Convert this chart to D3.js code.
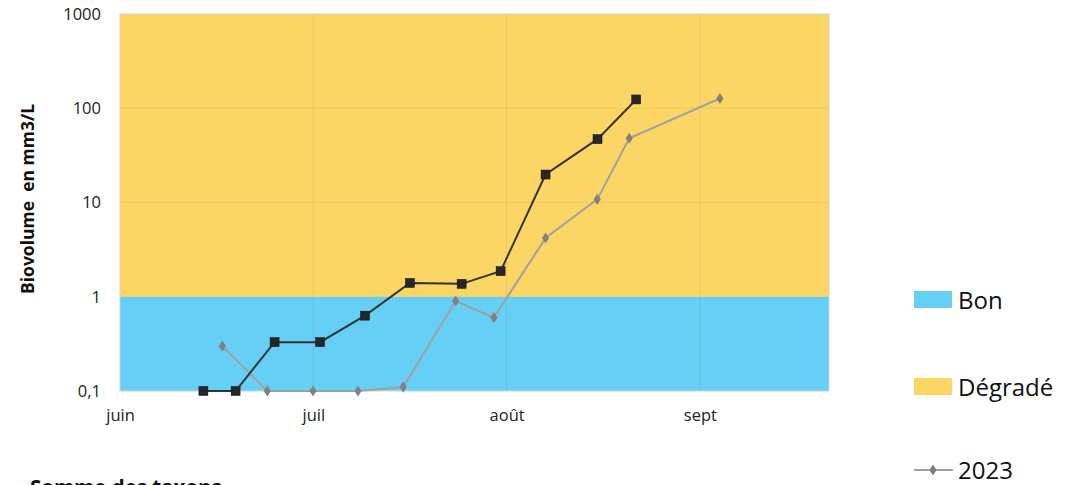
<!DOCTYPE html>
<html><head><meta charset="utf-8">
<script src="https://cdn.jsdelivr.net/npm/d3@7"></script>
<style>
body{margin:0;background:#fff;overflow:hidden}
svg text{font-family:"Open Sans","Noto Sans",sans-serif}
</style></head>
<body>
<svg id="c" width="1071" height="485"></svg>
<script>
// ---- data ----
const seriesDark = "Série récente";
const darkDates = ["2023-06-13T09:00","2023-06-18T13:00","2023-06-24T19:00","2023-07-02T02:00","2023-07-09T07:00","2023-07-16T12:00","2023-07-24T19:00","2023-07-31T01:00","2023-08-07T06:00","2023-08-15T14:00","2023-08-21T19:00"];
const darkValues = [0.1,0.1,0.33,0.33,0.63,1.4,1.37,1.87,19.8,47,124];
const series2023 = "2023";
const greyDates = ["2023-06-16T10:00","2023-06-23T15:00","2023-06-30T23:00","2023-07-08T04:00","2023-07-15T10:00","2023-07-23T20:00","2023-07-29T23:00","2023-08-07T06:00","2023-08-15T13:00","2023-08-20T16:00","2023-09-04T05:00"];
const greyValues = [0.3,0.1,0.1,0.1,0.11,0.9,0.6,4.2,10.8,48,127];
const bands = [{name:"Bon",lo:0.1,hi:1,color:"#66cff5"},{name:"Dégradé",lo:1,hi:1000,color:"#fcd664"}];
const monthTicks = ["2023-05-31T00:00","2023-07-01","2023-08-01","2023-09-01"];
const monthLabels = ["juin","juil","août","sept"];
const yTicks = [0.1,1,10,100,1000];
const yTickLabels = ["0,1","1","10","100","1000"];
const xStart = "2023-05-31T00:00", xEnd = "2023-09-21T17:00";
const yTitle = "Biovolume  en mm3/L";
const subTitle = "Somme des taxons";

// ---- drawing ----
const svg = d3.select("#c");
const pd = d3.isoParse;
const L=120,R=829,T=14,B=391;
const x = d3.scaleTime().domain([pd(xStart),pd(xEnd)]).range([L,R]);
const y = d3.scaleLog().domain([0.1,1000]).range([B,T]);

bands.forEach(b=>{
  svg.append("rect").attr("x",L).attr("width",R-L)
    .attr("y",y(b.hi)).attr("height",y(b.lo)-y(b.hi)).attr("fill",b.color);
});
// gridlines
svg.append("g").selectAll("line").data(yTicks.slice(1,-1)).join("line")
  .attr("x1",L).attr("x2",R).attr("y1",d=>y(d)).attr("y2",d=>y(d))
  .attr("stroke","#000").attr("stroke-opacity",0.06).attr("stroke-width",1);
svg.append("g").selectAll("line").data(monthTicks.slice(1)).join("line")
  .attr("x1",d=>x(pd(d))).attr("x2",d=>x(pd(d))).attr("y1",T).attr("y2",B)
  .attr("stroke","#000").attr("stroke-opacity",0.07).attr("stroke-width",1);
// border
svg.append("rect").attr("x",L).attr("y",T).attr("width",R-L).attr("height",B-T)
  .attr("fill","none").attr("stroke","#d4d4d4").attr("stroke-width",1);

// axes
const yAxis = d3.axisLeft(y).tickValues(yTicks).tickFormat((d,i)=>yTickLabels[i]).tickSize(0).tickPadding(19);
const gy = svg.append("g").attr("transform",`translate(${L},0)`).call(yAxis);
gy.select(".domain").remove();
gy.selectAll("text").attr("font-size",16.5).attr("fill","#222").style("font-family","'Open Sans',sans-serif");

const xAxis = d3.axisBottom(x).tickValues(monthTicks.map(pd)).tickFormat((d,i)=>monthLabels[i]).tickSize(0).tickPadding(18);
const gx = svg.append("g").attr("transform",`translate(0,${B})`).call(xAxis);
gx.select(".domain").remove();
gx.selectAll("text").attr("font-size",16.5).attr("fill","#222").style("font-family","'Open Sans',sans-serif");

// y title
svg.append("text").attr("transform","translate(34,199) rotate(-90)")
  .attr("text-anchor","middle").attr("font-size",17.5).attr("font-weight","bold").attr("fill","#111")
  .attr("xml:space","preserve").text(yTitle);
svg.append("text").attr("x",30).attr("y",495).attr("font-size",20.5).attr("font-weight","bold")
  .attr("fill","#111").text(subTitle);

// series
const line = d3.line().x(d=>x(d[0])).y(d=>y(d[1]));
const grey = greyDates.map((d,i)=>[pd(d),greyValues[i]]);
const dark = darkDates.map((d,i)=>[pd(d),darkValues[i]]);
svg.append("path").datum(grey).attr("d",line).attr("fill","none").attr("stroke","#a0a0a0").attr("stroke-width",2);
svg.append("g").selectAll("path").data(grey).join("path")
  .attr("d",d3.symbol(d3.symbolDiamond,44))
  .attr("transform",d=>`translate(${x(d[0])},${y(d[1])}) scale(1,0.9)`).attr("fill","#808080");
svg.append("path").datum(dark).attr("d",line).attr("fill","none").attr("stroke","#333333").attr("stroke-width",2);
svg.append("g").selectAll("rect").data(dark).join("rect")
  .attr("x",d=>x(d[0])-4.5).attr("y",d=>y(d[1])-4.5).attr("width",9).attr("height",9)
  .attr("fill","#262626").attr("stroke","#111").attr("stroke-width",0.5);

// legend
const lg = svg.append("g");
bands.forEach((b,i)=>{
  const cy = 300 + i*87;
  lg.append("rect").attr("x",914).attr("y",cy-9).attr("width",38).attr("height",17).attr("fill",b.color);
  lg.append("text").attr("x",958).attr("y",cy+9).attr("font-size",24).attr("fill","#111").text(b.name);
});
const ly = 470;
lg.append("line").attr("x1",914).attr("x2",953).attr("y1",ly).attr("y2",ly).attr("stroke","#a0a0a0").attr("stroke-width",2);
lg.append("path").attr("d",d3.symbol(d3.symbolDiamond,44)).attr("transform",`translate(933,${ly}) scale(1,0.9)`).attr("fill","#808080");
lg.append("text").attr("x",958).attr("y",ly+9).attr("font-size",24).attr("fill","#111").text(series2023);
</script>
</body></html>
